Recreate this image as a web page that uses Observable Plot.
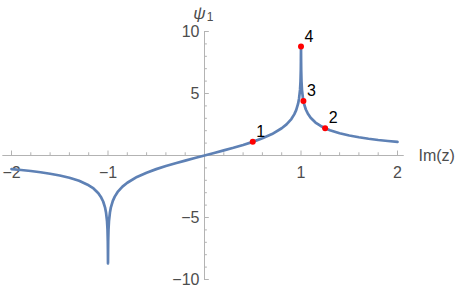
<!DOCTYPE html>
<html><head><meta charset="utf-8">
<script src="https://cdn.jsdelivr.net/npm/d3@7"></script>
<script src="https://cdn.jsdelivr.net/npm/@observablehq/plot@0.6"></script>
<style>body{margin:0;background:#fff}</style>
</head><body><div id="chart"></div>
<script>
// Curve samples (Im(z), psi1)
const curveX = [-2,-1.9,-1.8,-1.7,-1.6,-1.5,-1.4,-1.3,-1.2,-1.15,-1.1,-1.07,-1.05,-1.03,-1.02,-1.01,-1.005,-1.002,-1.001,-1,
  -0.999,-0.998,-0.995,-0.99,-0.98,-0.97,-0.95,-0.93,-0.9,-0.85,-0.8,-0.7,-0.6,-0.5,-0.4,-0.3,-0.2,-0.1,0,
  0.1,0.2,0.3,0.4,0.5,0.6,0.7,0.8,0.85,0.9,0.93,0.95,0.97,0.98,0.99,0.995,0.998,0.999,1,
  1.001,1.002,1.005,1.01,1.02,1.03,1.05,1.07,1.1,1.15,1.2,1.25,1.3,1.4,1.5,1.6,1.7,1.8,1.9,2];
const curveY = [-1.10,-1.17,-1.25,-1.35,-1.47,-1.61,-1.79,-2.04,-2.40,-2.66,-3.04,-3.39,-3.71,-4.21,-4.62,-5.30,-5.99,-6.91,-7.60,-8.7,
  -7.60,-6.91,-5.99,-5.29,-4.60,-4.18,-3.66,-3.32,-2.94,-2.51,-2.20,-1.73,-1.39,-1.10,-0.85,-0.62,-0.41,-0.20,0,
  0.20,0.41,0.62,0.85,1.10,1.39,1.73,2.20,2.51,2.94,3.32,3.66,4.18,4.60,5.29,5.99,6.91,7.60,8.8,
  7.60,6.91,5.99,5.30,4.62,4.21,3.71,3.39,3.04,2.66,2.40,2.20,2.04,1.79,1.61,1.47,1.35,1.25,1.17,1.10];
const pointLabels = ["1","2","3","4"];
const pointX = [0.5, 1.25, 1.025, 1.0];
const pointY = [1.1, 2.2, 4.4, 8.8];
const xMajor = [-2,-1,1,2];
const xMajorLabels = ["\u22122","\u22121","1","2"];
const yMajor = [-10,-5,5,10];
const yMajorLabels = ["\u221210","\u22125","5","10"];
const xMinor = d3.range(-20, 21, 2).map(v => v/10).filter(v => !xMajor.includes(v) && v !== 0);
const yMinor = d3.range(-10, 11, 1).filter(v => !yMajor.includes(v) && v !== 0);

const curve = curveX.map((x, i) => ({x, y: curveY[i]}));
const pts = pointX.map((x, i) => ({x, y: pointY[i], label: pointLabels[i]}));
const axisColor = "#b3b3b3";
const labelColor = "#4d4d4d";
const font = "'Liberation Sans', Arial, sans-serif";

const chart = Plot.plot({
  width: 457, height: 291,
  marginLeft: 11, marginRight: 60, marginTop: 31, marginBottom: 12,
  x: {domain: [-2, 2], axis: null},
  y: {domain: [-10, 10], axis: null},
  style: {fontFamily: font, background: "white"},
  marks: [
    Plot.ruleY([0], {x1: -2.09, x2: 2.07, stroke: axisColor, strokeWidth: 1}),
    Plot.ruleX([0], {y1: -10, y2: 10, stroke: axisColor, strokeWidth: 1}),
    Plot.ruleX(xMajor, {x: d => d, y1: 0, y2: 0.36, stroke: axisColor}),
    Plot.ruleX(xMinor, {x: d => d, y1: 0, y2: 0.22, stroke: axisColor}),
    Plot.ruleY(yMajor, {y: d => d, x1: 0, x2: 0.05, stroke: axisColor}),
    Plot.ruleY(yMinor, {y: d => d, x1: 0, x2: 0.03, stroke: axisColor}),
    Plot.text(xMajor, {x: d => d, y: 0, text: (d, i) => xMajorLabels[i], dy: 17, fill: labelColor, fontSize: 16}),
    Plot.text(yMajor, {x: 0, y: d => d, text: (d, i) => yMajorLabels[i], dx: -5, textAnchor: "end", fill: labelColor, fontSize: 16}),
    Plot.text(["Im(z)"], {x: 2, y: 0, text: d => d, dx: 21, textAnchor: "start", fill: labelColor, fontSize: 16}),
    Plot.text(["\u03c8"], {x: 0, y: 10, text: d => d, dx: -5, dy: -18, fill: labelColor, fontSize: 17, fontStyle: "italic"}),
    Plot.text(["1"], {x: 0, y: 10, text: d => d, dx: 5.5, dy: -14, fill: labelColor, fontSize: 12}),
    Plot.line(curve, {x: "x", y: "y", stroke: "#5e81b5", strokeWidth: 2.7, curve: "linear"}),
    Plot.dot(pts, {x: "x", y: "y", r: 3, fill: "#ff0000", stroke: "none"}),
    Plot.text(pts, {x: "x", y: "y", text: "label", dx: 8, dy: -10, fill: "black", fontSize: 16})
  ]
});
document.getElementById("chart").appendChild(chart);
</script>
</body></html>
